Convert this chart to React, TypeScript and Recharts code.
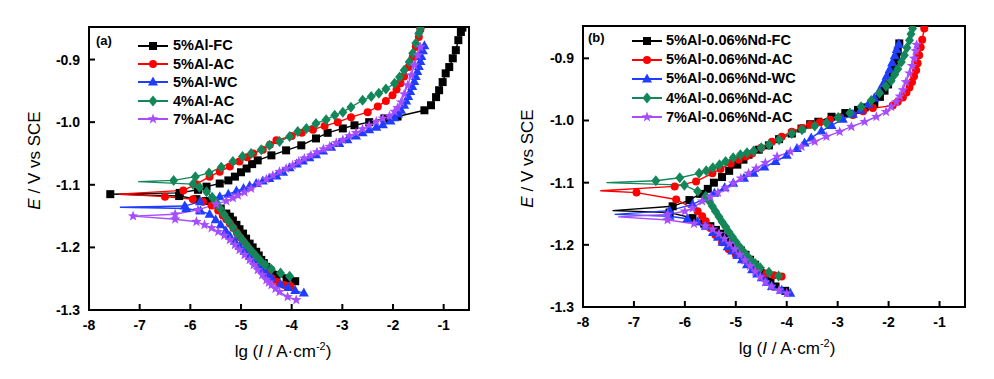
import { Label, Legend, Line, LineChart, ReferenceArea, XAxis, YAxis } from 'recharts';

type Pt = [number, number]; // [lg I, E], in scan order: cathodic end -> Ecorr -> anodic end

const FONT = 'Arial, "Liberation Sans", Helvetica, sans-serif';
const X_TICKS = [-8, -7, -6, -5, -4, -3, -2, -1];
const Y_TICKS = [-1.3, -1.2, -1.1, -1.0, -0.9];
const X_DOMAIN = [-8, -0.5];
const Y_DOMAIN = [-1.3, -0.848];

// (a) Al content and cooling mode
const alFC: Pt[] = [
  [-3.93, -1.254], [-4.1, -1.25], [-4.3, -1.244], [-4.42, -1.237], [-4.5, -1.231], [-4.55, -1.225], [-4.6, -1.22],
  [-4.65, -1.213], [-4.7, -1.207], [-4.77, -1.2], [-4.83, -1.194], [-4.9, -1.186], [-4.96, -1.178], [-5.03, -1.171],
  [-5.09, -1.164], [-5.16, -1.157], [-5.22, -1.151], [-5.29, -1.146], [-5.4, -1.138], [-5.55, -1.13], [-5.7, -1.126],
  [-5.88, -1.123], [-6.22, -1.118], [-7.58, -1.115],
  [-6.21, -1.113], [-5.85, -1.108], [-5.68, -1.103], [-5.42, -1.098], [-5.25, -1.093], [-5.12, -1.087], [-5.0, -1.08],
  [-4.89, -1.074], [-4.78, -1.067], [-4.67, -1.061], [-4.4, -1.053], [-4.11, -1.045], [-3.81, -1.037], [-3.52, -1.026],
  [-3.29, -1.017], [-2.99, -1.01], [-2.76, -1.005], [-2.47, -1.0], [-2.17, -0.994], [-1.91, -0.991], [-1.38, -0.981],
  [-1.25, -0.973], [-1.15, -0.96], [-1.09, -0.949], [-1.02, -0.936], [-0.96, -0.922], [-0.89, -0.912], [-0.82, -0.898],
  [-0.76, -0.885], [-0.71, -0.869], [-0.66, -0.856], [-0.63, -0.849],
];
const alAC: Pt[] = [
  [-4.02, -1.262], [-4.15, -1.26], [-4.3, -1.255], [-4.4, -1.249], [-4.48, -1.242], [-4.55, -1.235], [-4.62, -1.228],
  [-4.68, -1.221], [-4.75, -1.213], [-4.82, -1.206], [-4.88, -1.199], [-4.95, -1.191], [-5.02, -1.184], [-5.08, -1.177],
  [-5.15, -1.169], [-5.22, -1.162], [-5.29, -1.155], [-5.36, -1.149], [-5.45, -1.141], [-5.58, -1.133], [-5.75, -1.127],
  [-5.95, -1.123], [-6.5, -1.119], [-7.42, -1.115],
  [-6.14, -1.109], [-5.88, -1.099], [-5.62, -1.087], [-5.42, -1.079], [-5.22, -1.071], [-5.03, -1.063], [-4.88, -1.056],
  [-4.76, -1.05], [-4.57, -1.044], [-4.43, -1.036], [-4.3, -1.029], [-4.0, -1.022], [-3.8, -1.017], [-3.58, -1.012],
  [-3.35, -1.006], [-3.09, -1.0], [-2.83, -0.992], [-2.5, -0.984], [-2.3, -0.975], [-2.14, -0.966], [-2.01, -0.957],
  [-1.93, -0.948], [-1.85, -0.938], [-1.78, -0.927], [-1.69, -0.912], [-1.61, -0.896], [-1.55, -0.88], [-1.49, -0.864],
  [-1.46, -0.852],
];
const alWC: Pt[] = [
  [-3.76, -1.273], [-3.93, -1.269], [-4.07, -1.264], [-4.22, -1.259], [-4.4, -1.249], [-4.5, -1.243], [-4.57, -1.236],
  [-4.63, -1.23], [-4.73, -1.222], [-4.83, -1.214], [-4.93, -1.206], [-5.03, -1.198], [-5.12, -1.19], [-5.22, -1.182],
  [-5.3, -1.174], [-5.4, -1.164], [-5.5, -1.156], [-5.62, -1.147], [-5.8, -1.142], [-6.08, -1.138], [-7.39, -1.136],
  [-6.11, -1.134], [-5.81, -1.127], [-5.42, -1.119], [-5.25, -1.115], [-5.09, -1.11], [-4.95, -1.106], [-4.83, -1.102],
  [-4.7, -1.098], [-4.57, -1.094], [-4.44, -1.09], [-4.3, -1.086], [-4.17, -1.08], [-4.04, -1.073], [-3.9, -1.067],
  [-3.78, -1.062], [-3.65, -1.057], [-3.52, -1.052], [-3.38, -1.046], [-3.22, -1.04], [-3.06, -1.034], [-2.9, -1.028],
  [-2.73, -1.022], [-2.6, -1.017], [-2.47, -1.012], [-2.33, -1.008], [-2.2, -1.004], [-2.05, -0.998], [-1.97, -0.993],
  [-1.9, -0.987], [-1.84, -0.981], [-1.78, -0.973], [-1.74, -0.966], [-1.7, -0.959], [-1.66, -0.951], [-1.62, -0.943],
  [-1.58, -0.935], [-1.55, -0.927], [-1.52, -0.919], [-1.49, -0.911], [-1.46, -0.903], [-1.44, -0.895], [-1.41, -0.886],
  [-1.38, -0.878],
];
const al4AC: Pt[] = [
  [-4.04, -1.246], [-4.22, -1.241], [-4.4, -1.235], [-4.52, -1.228], [-4.62, -1.221], [-4.71, -1.213], [-4.8, -1.205],
  [-4.89, -1.196], [-4.98, -1.187], [-5.07, -1.178], [-5.16, -1.168], [-5.25, -1.158], [-5.33, -1.148], [-5.41, -1.138],
  [-5.49, -1.128], [-5.57, -1.12], [-5.68, -1.111], [-5.82, -1.104], [-5.95, -1.099], [-7.03, -1.095],
  [-6.33, -1.093], [-5.9, -1.087], [-5.63, -1.081], [-5.39, -1.072], [-5.16, -1.063], [-4.97, -1.055], [-4.8, -1.05],
  [-4.6, -1.044], [-4.44, -1.037], [-4.24, -1.031], [-4.04, -1.023], [-3.88, -1.015], [-3.71, -1.01], [-3.52, -1.002],
  [-3.32, -0.996], [-3.15, -0.989], [-2.99, -0.984], [-2.83, -0.976], [-2.6, -0.965], [-2.43, -0.959], [-2.28, -0.954],
  [-2.14, -0.947], [-1.97, -0.938], [-1.87, -0.928], [-1.78, -0.917], [-1.68, -0.904], [-1.61, -0.89], [-1.55, -0.874],
  [-1.49, -0.858], [-1.46, -0.85],
];
const al7AC: Pt[] = [
  [-3.91, -1.284], [-4.08, -1.279], [-4.24, -1.271], [-4.32, -1.266], [-4.4, -1.26], [-4.45, -1.256], [-4.5, -1.252],
  [-4.58, -1.244], [-4.67, -1.236], [-4.75, -1.228], [-4.83, -1.22], [-4.93, -1.212], [-5.03, -1.204], [-5.12, -1.196],
  [-5.22, -1.188], [-5.33, -1.181], [-5.45, -1.175], [-5.58, -1.169], [-5.72, -1.164], [-5.88, -1.159], [-6.3, -1.155],
  [-7.13, -1.15],
  [-6.3, -1.147], [-5.85, -1.14], [-5.49, -1.131], [-5.29, -1.126], [-5.16, -1.121], [-5.06, -1.117], [-4.93, -1.112],
  [-4.8, -1.106], [-4.65, -1.098], [-4.5, -1.091], [-4.37, -1.085], [-4.24, -1.079], [-4.11, -1.074], [-3.98, -1.069],
  [-3.86, -1.063], [-3.75, -1.058], [-3.62, -1.053], [-3.5, -1.048], [-3.37, -1.043], [-3.25, -1.039], [-3.12, -1.033],
  [-2.99, -1.028], [-2.86, -1.022], [-2.73, -1.017], [-2.6, -1.011], [-2.47, -1.005], [-2.33, -0.999], [-2.2, -0.994],
  [-2.07, -0.99], [-1.97, -0.983], [-1.91, -0.977], [-1.84, -0.968], [-1.78, -0.955], [-1.71, -0.941], [-1.64, -0.925],
  [-1.58, -0.909], [-1.51, -0.893], [-1.46, -0.88],
];

// (b) with 0.06% Nd
const ndFC: Pt[] = [
  [-4.03, -1.274], [-4.22, -1.267], [-4.32, -1.259], [-4.42, -1.251], [-4.52, -1.242], [-4.62, -1.232], [-4.72, -1.224],
  [-4.81, -1.216], [-4.9, -1.209], [-5.0, -1.202], [-5.1, -1.195], [-5.2, -1.188], [-5.3, -1.182], [-5.39, -1.176],
  [-5.5, -1.17], [-5.62, -1.166], [-5.85, -1.157], [-6.3, -1.148], [-7.42, -1.145],
  [-6.24, -1.138], [-5.91, -1.128], [-5.7, -1.118], [-5.55, -1.11], [-5.43, -1.1], [-5.27, -1.091], [-5.13, -1.081],
  [-4.97, -1.071], [-4.85, -1.063], [-4.75, -1.055], [-4.55, -1.047], [-4.35, -1.04], [-4.15, -1.03], [-3.9, -1.021],
  [-3.71, -1.013], [-3.54, -1.006], [-3.38, -1.002], [-3.12, -0.994], [-2.85, -0.988], [-2.6, -0.983], [-2.47, -0.979],
  [-2.28, -0.973], [-2.17, -0.962], [-2.08, -0.952], [-2.01, -0.942], [-1.96, -0.932], [-1.92, -0.922], [-1.88, -0.911],
  [-1.85, -0.9], [-1.82, -0.889], [-1.79, -0.876],
];
const ndAC: Pt[] = [
  [-4.1, -1.251], [-4.25, -1.249], [-4.4, -1.246], [-4.56, -1.24], [-4.72, -1.232], [-4.86, -1.224], [-5.0, -1.216],
  [-5.14, -1.207], [-5.27, -1.196], [-5.4, -1.184], [-5.5, -1.173], [-5.59, -1.162], [-5.66, -1.154], [-5.75, -1.146],
  [-6.17, -1.127], [-6.95, -1.116], [-7.66, -1.113],
  [-6.2, -1.106], [-5.78, -1.098], [-5.46, -1.085], [-5.3, -1.078], [-5.1, -1.069], [-4.94, -1.063], [-4.8, -1.058],
  [-4.68, -1.053], [-4.5, -1.044], [-4.29, -1.034], [-4.1, -1.026], [-3.9, -1.018], [-3.7, -1.012], [-3.54, -1.007],
  [-3.35, -1.003], [-3.15, -0.999], [-2.95, -0.995], [-2.7, -0.991], [-2.5, -0.985], [-2.31, -0.98], [-1.92, -0.976],
  [-1.82, -0.97], [-1.72, -0.963], [-1.65, -0.955], [-1.59, -0.947], [-1.54, -0.938], [-1.5, -0.929], [-1.46, -0.919],
  [-1.43, -0.908], [-1.4, -0.895], [-1.37, -0.882], [-1.34, -0.87], [-1.3, -0.852],
];
const ndWC: Pt[] = [
  [-3.93, -1.278], [-4.1, -1.273], [-4.29, -1.267], [-4.39, -1.26], [-4.49, -1.253], [-4.58, -1.247], [-4.68, -1.24],
  [-4.78, -1.232], [-4.88, -1.224], [-4.97, -1.217], [-5.07, -1.21], [-5.16, -1.203], [-5.26, -1.196], [-5.35, -1.188],
  [-5.45, -1.18], [-5.59, -1.17], [-5.75, -1.163], [-5.95, -1.158], [-6.3, -1.154], [-7.38, -1.151],
  [-6.3, -1.145], [-5.85, -1.135], [-5.62, -1.126], [-5.42, -1.117], [-5.22, -1.108], [-5.05, -1.101], [-4.84, -1.093],
  [-4.65, -1.085], [-4.44, -1.075], [-4.22, -1.066], [-4.0, -1.056], [-3.8, -1.045], [-3.65, -1.036], [-3.52, -1.028],
  [-3.32, -1.017], [-3.12, -1.008], [-2.9, -0.998], [-2.7, -0.99], [-2.55, -0.983], [-2.4, -0.974], [-2.28, -0.964],
  [-2.18, -0.952], [-2.1, -0.94], [-2.04, -0.929], [-1.98, -0.918], [-1.93, -0.907], [-1.88, -0.896], [-1.84, -0.886],
  [-1.8, -0.877],
];
const nd4AC: Pt[] = [
  [-4.16, -1.25], [-4.35, -1.244], [-4.52, -1.237], [-4.62, -1.23], [-4.71, -1.224], [-4.8, -1.216], [-4.88, -1.208],
  [-4.94, -1.202], [-5.0, -1.195], [-5.07, -1.187], [-5.14, -1.179], [-5.2, -1.171], [-5.27, -1.163], [-5.33, -1.155],
  [-5.4, -1.146], [-5.46, -1.138], [-5.52, -1.13], [-5.59, -1.122], [-5.75, -1.114], [-6.01, -1.104], [-7.54, -1.1],
  [-6.57, -1.097], [-6.1, -1.092], [-5.72, -1.085], [-5.58, -1.081], [-5.45, -1.076], [-5.32, -1.071], [-5.2, -1.066],
  [-5.05, -1.06], [-4.91, -1.055], [-4.78, -1.052], [-4.65, -1.049], [-4.5, -1.044], [-4.35, -1.039], [-4.15, -1.031],
  [-3.9, -1.021], [-3.7, -1.015], [-3.45, -1.009], [-3.22, -1.004], [-2.99, -0.995], [-2.76, -0.988], [-2.54, -0.978],
  [-2.34, -0.968], [-2.18, -0.956], [-2.05, -0.945], [-1.95, -0.936], [-1.88, -0.926], [-1.82, -0.917], [-1.75, -0.906],
  [-1.69, -0.895], [-1.64, -0.883], [-1.59, -0.871], [-1.56, -0.861], [-1.53, -0.852],
];
const nd7AC: Pt[] = [
  [-4.0, -1.278], [-4.15, -1.273], [-4.3, -1.267], [-4.42, -1.26], [-4.52, -1.252], [-4.62, -1.243], [-4.72, -1.234],
  [-4.82, -1.225], [-4.92, -1.216], [-5.02, -1.207], [-5.12, -1.198], [-5.22, -1.19], [-5.33, -1.182], [-5.45, -1.175],
  [-5.6, -1.17], [-5.82, -1.166], [-6.34, -1.16], [-7.31, -1.155],
  [-6.34, -1.151], [-6.0, -1.146], [-5.85, -1.141], [-5.66, -1.13], [-5.5, -1.123], [-5.35, -1.116], [-5.2, -1.109],
  [-5.05, -1.101], [-4.9, -1.093], [-4.75, -1.085], [-4.6, -1.077], [-4.42, -1.068], [-4.19, -1.058], [-3.93, -1.05],
  [-3.71, -1.042], [-3.45, -1.034], [-3.22, -1.026], [-2.96, -1.018], [-2.73, -1.01], [-2.47, -1.002], [-2.24, -0.994],
  [-2.05, -0.986], [-1.95, -0.978], [-1.85, -0.97], [-1.78, -0.961], [-1.72, -0.951], [-1.66, -0.938], [-1.59, -0.924],
  [-1.54, -0.912], [-1.5, -0.9], [-1.47, -0.888], [-1.45, -0.878],
];

const NAMES_A = ['5%Al-FC', '5%Al-AC', '5%Al-WC', '4%Al-AC', '7%Al-AC'];
const NAMES_B = ['5%Al-0.06%Nd-FC', '5%Al-0.06%Nd-AC', '5%Al-0.06%Nd-WC', '4%Al-0.06%Nd-AC', '7%Al-0.06%Nd-AC'];
const COLORS = ['#000000', '#ff0000', '#1f3dff', '#14875a', '#a64dff'];
const SHAPES = ['square', 'circle', 'triangle', 'diamond', 'star'];
// whether the Ecorr end of the trace carries a symbol
const TIP_MARK_A = [true, false, false, false, true];
const TIP_MARK_B = [false, false, false, false, false];

const seriesA = [alFC, alAC, alWC, al4AC, al7AC].map((pts, i) => ({
  name: NAMES_A[i], color: COLORS[i], shape: SHAPES[i], tip: TIP_MARK_A[i], pts,
}));
const seriesB = [ndFC, ndAC, ndWC, nd4AC, nd7AC].map((pts, i) => ({
  name: NAMES_B[i], color: COLORS[i], shape: SHAPES[i], tip: TIP_MARK_B[i], pts,
}));

function starPoints(cx: number, cy: number, ro: number, ri: number) {
  const out: string[] = [];
  for (let i = 0; i < 10; i++) {
    const r = i % 2 === 0 ? ro : ri;
    const a = (Math.PI / 5) * i - Math.PI / 2;
    out.push(`${cx + r * Math.cos(a)},${cy + r * Math.sin(a)}`);
  }
  return out.join(' ');
}

function Marker({ cx, cy, shape, color }: any) {
  if (cx == null || cy == null) return null;
  switch (shape) {
    case 'square':
      return <rect x={cx - 4} y={cy - 4} width={8} height={8} fill={color} />;
    case 'circle':
      return <circle cx={cx} cy={cy} r={4} fill={color} />;
    case 'triangle':
      return <polygon points={`${cx},${cy - 5.5} ${cx + 5},${cy + 3.5} ${cx - 5},${cy + 3.5}`} fill={color} />;
    case 'diamond':
      return <polygon points={`${cx},${cy - 5.5} ${cx + 4.5},${cy} ${cx},${cy + 5.5} ${cx - 4.5},${cy}`} fill={color} />;
    default:
      return <polygon points={starPoints(cx, cy, 5.5, 2.3)} fill={color} />;
  }
}

const XTick = ({ x, y, payload }: any) => (
  <g>
    <line x1={x} x2={x} y1={y} y2={y - 6} stroke="#000" strokeWidth={2} />
    <text x={x} y={y + 20} textAnchor="middle" fontSize={14} fontWeight="bold" fontFamily={FONT} fill="#000">
      {payload.value}
    </text>
  </g>
);

const YTick = ({ x, y, payload }: any) => (
  <g>
    <line x1={x} x2={x + 6} y1={y} y2={y} stroke="#000" strokeWidth={2} />
    <text x={x - 9} y={y + 5} textAnchor="end" fontSize={14} fontWeight="bold" fontFamily={FONT} fill="#000">
      {Number(payload.value).toFixed(1)}
    </text>
  </g>
);

function LegendBox({ series, rowH, gap }: any) {
  return (
    <div style={{ fontFamily: FONT, fontSize: 14.5, fontWeight: 'bold', color: '#000', lineHeight: 1 }}>
      {series.map((s: any) => (
        <div key={s.name} style={{ display: 'flex', alignItems: 'center', height: rowH }}>
          <svg width={30} height={12} style={{ display: 'block', overflow: 'visible' }}>
            <line x1={0} x2={30} y1={6} y2={6} stroke={s.color} strokeWidth={2} />
            <Marker cx={15} cy={6} shape={s.shape} color={s.color} />
          </svg>
          <span style={{ marginLeft: gap, whiteSpace: 'nowrap' }}>{s.name}</span>
        </div>
      ))}
    </div>
  );
}

function Panel({ series, tag, left, margin, xAxisH, legendPos, rowH, gap, xTitle, yTitle, tagPos }: any) {
  return (
    <div style={{ position: 'absolute', left, top: 0 }}>
      <LineChart width={497} height={379} margin={margin}>
        <XAxis
          type="number"
          dataKey="lg"
          domain={X_DOMAIN}
          ticks={X_TICKS}
          interval={0}
          allowDataOverflow
          height={xAxisH}
          tickSize={0}
          tickMargin={0}
          tickLine={false}
          axisLine={false}
          tick={XTick}
        >
          <Label
            content={({ viewBox }: any) => (
              <text x={viewBox.x + viewBox.width / 2 + xTitle} y={viewBox.y + 47} textAnchor="middle" fontSize={17} fontFamily={FONT} fill="#000">
                <tspan>lg (</tspan>
                <tspan fontStyle="italic">I</tspan>
                <tspan> / A·cm</tspan>
                <tspan dy={-7} fontSize={11}>-2</tspan>
                <tspan dy={7}>)</tspan>
              </text>
            )}
          />
        </XAxis>
        <YAxis
          type="number"
          domain={Y_DOMAIN}
          ticks={Y_TICKS}
          interval={0}
          allowDataOverflow
          width={60}
          tickSize={0}
          tickMargin={0}
          tickLine={false}
          axisLine={false}
          tick={YTick}
        >
          <Label
            content={({ viewBox }: any) => {
              const cx = yTitle.x;
              const cy = viewBox.y + viewBox.height / 2 + yTitle.dy;
              return (
                <text transform={`translate(${cx},${cy}) rotate(-90)`} dy="0.35em" textAnchor="middle" fontSize={17} fontFamily={FONT} fill="#000">
                  <tspan fontStyle="italic">E</tspan>
                  <tspan> / V vs SCE</tspan>
                </text>
              );
            }}
          />
        </YAxis>
        <ReferenceArea x1={X_DOMAIN[0]} x2={X_DOMAIN[1]} y1={Y_DOMAIN[0]} y2={Y_DOMAIN[1]} fillOpacity={0} stroke="#000" strokeWidth={2} />
        {series.map((s: any) => {
          let tipIdx = 0;
          s.pts.forEach((p: Pt, i: number) => {
            if (p[0] < s.pts[tipIdx][0]) tipIdx = i;
          });
          return (
            <Line
              key={s.name}
              data={s.pts.map(([lg, e]: Pt) => ({ lg, e }))}
              dataKey="e"
              type="linear"
              stroke={s.color}
              strokeWidth={1.4}
              dot={(p: any) =>
                !s.tip && p.index === tipIdx ? (
                  <g key={`${s.name}-${p.index}`} />
                ) : (
                  <Marker key={`${s.name}-${p.index}`} cx={p.cx} cy={p.cy} shape={s.shape} color={s.color} />
                )
              }
              activeDot={false}
              isAnimationActive={false}
            />
          );
        })}
        <Legend
          layout="vertical"
          align="center"
          verticalAlign="middle"
          wrapperStyle={{ left: legendPos.left, top: legendPos.top, width: 'auto' }}
          content={() => <LegendBox series={series} rowH={rowH} gap={gap} />}
        />
      </LineChart>
      <div style={{ position: 'absolute', left: tagPos.left, top: tagPos.top, fontFamily: FONT, fontSize: 13, fontWeight: 'bold', color: '#000' }}>
        {tag}
      </div>
    </div>
  );
}

export default function App() {
  return (
    <div style={{ position: 'absolute', left: 0, top: 0, width: 994, height: 379, background: '#fff' }}>
      <Panel
        series={seriesA}
        tag="(a)"
        left={0}
        margin={{ top: 27, right: 28, bottom: 0, left: 29 }}
        xAxisH={69}
        legendPos={{ left: 138, top: 36.5 }}
        rowH={18.4}
        gap={5}
        xTitle={4}
        yTitle={{ x: 34, dy: -8 }}
        tagPos={{ left: 96, top: 33 }}
      />
      <Panel
        series={seriesB}
        tag="(b)"
        left={497}
        margin={{ top: 26, right: 29, bottom: 0, left: 26 }}
        xAxisH={72}
        legendPos={{ left: 135, top: 31 }}
        rowH={19.1}
        gap={4}
        xTitle={13}
        yTitle={{ x: 30, dy: -8 }}
        tagPos={{ left: 91, top: 30 }}
      />
    </div>
  );
}
